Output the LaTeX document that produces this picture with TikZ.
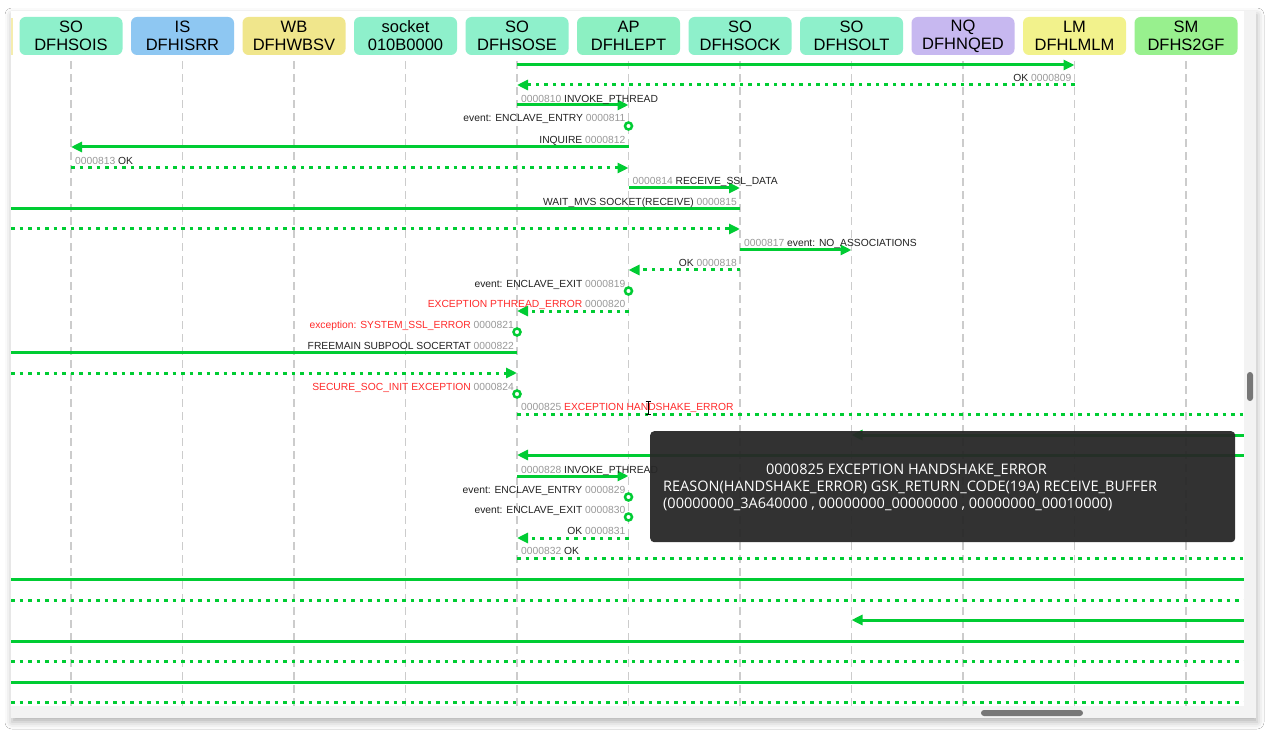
\documentclass[tikz,border=0pt]{standalone}
\usepackage{fontspec}
\setmainfont{Liberation Sans}
\newfontfamily\tipfont{Open Sans}
\usetikzlibrary{arrows.meta,shadows.blur,calc}
\definecolor{gl}{HTML}{00CC33}
\definecolor{mint}{HTML}{8EF0CB}
\definecolor{skyb}{HTML}{8EC7F2}
\definecolor{khak}{HTML}{F0E68C}
\definecolor{lav}{HTML}{C7B8F0}
\definecolor{lmy}{HTML}{F2F28C}
\definecolor{smg}{HTML}{98F08E}
\definecolor{apg}{HTML}{8CF0C2}
\definecolor{numg}{HTML}{999999}
\definecolor{exr}{HTML}{FF2A2A}
\definecolor{lifec}{HTML}{CCCCCC}
\definecolor{trk}{HTML}{F3F3F3}
\definecolor{thumbc}{HTML}{777777}
\definecolor{tipbg}{HTML}{272727}
\definecolor{txt}{HTML}{222222}
\newcommand\nm[1]{\textcolor{numg}{#1}}
\newcommand\ex[1]{\textcolor{exr}{#1}}
\begin{document}
\begin{tikzpicture}[x=1pt,y=-1pt,
  hdr/.style={rounded corners=6pt, minimum width=103pt, minimum height=38pt, inner sep=0pt, align=center, font=\fontsize{16.5}{18}\selectfont, text=black},
  life/.style={lifec, line width=1.5pt, dash pattern=on 8pt off 5pt},
  sol/.style={gl, line width=3pt},
  dotl/.style={gl, line width=3pt, dash pattern=on 3.5pt off 5pt},
  tip/.style={-{Triangle[length=11pt,width=10pt]}},
  evc/.style={circle, draw=gl, line width=2.5pt, fill=white, minimum size=7pt, inner sep=0pt},
  lbl/.style={font=\fontsize{10.3}{12}\selectfont, text=txt, inner sep=0pt},
  lw/.style={lbl, anchor=base west, xshift=4pt},
  le/.style={lbl, anchor=base east, xshift=-3pt},
  tiptxt/.style={font=\tipfont\fontsize{14.5}{17}\selectfont, text=white, inner sep=0pt}
]
\useasboundingbox (0,0) rectangle (1275,738);
\fill[white] (0,0) rectangle (1275,738);
\path[fill=white, blur shadow={shadow xshift=1pt, shadow yshift=-4pt, shadow blur radius=7pt, shadow opacity=30}] (11,11) rectangle (1256,718);
\fill[white] (11,11) rectangle (1256,718);
% partially hidden header at the left edge
\fill[khak!70] (11,18) rectangle (12.5,55);
% headers
\foreach \i/\c/\a/\b in {1/mint/SO/DFHSOIS, 2/skyb/IS/DFHISRR, 3/khak/WB/DFHWBSV, 4/mint/socket/010B0000, 5/mint/SO/DFHSOSE, 6/apg/AP/DFHLEPT, 7/mint/SO/DFHSOCK, 8/mint/SO/DFHSOLT, 9/lav/NQ/DFHNQED, 10/lmy/LM/DFHLMLM, 11/smg/SM/DFHS2GF}
  \node[hdr, fill=\c] (h\i) at ({71+111.5*(\i-1)},36) {\a\\\b};
% helper coordinates
\coordinate (Lft) at (11,0);
\coordinate (Rgt) at (1244,0);
\coordinate (bot) at (0,706);
\foreach \n/\y in {1/65,2/85,3/105,4/126,5/147,6/168,7/188,8/209,9/229,10/250,11/270,12/291,13/311,14/332,15/352,16/373,17/394,18/414,19/435,20/455,21/476,22/497,23/517,24/538,25/558,26/579,27/600,28/620,29/641,30/661,31/682,32/702}
  \coordinate (r\n) at (0,\y);
% lifelines
\foreach \i in {1,...,11}
  \draw[life] ([yshift=-6pt]h\i.south) -- (h\i |- bot);
% messages
\draw[sol,tip] (h5 |- r1) -- (h10 |- r1);
\draw[dotl,tip] (h10 |- r2) -- (h5 |- r2);
\node[le, yshift=3.5pt] (t2) at (h10 |- r2) {OK \nm{0000809}};
\draw[sol,tip] (h5 |- r3) -- (h6 |- r3);
\node[lw, yshift=2.5pt] (t3) at (h5 |- r3) {\nm{0000810} INVOKE\_PTHREAD};
\node[evc] (e4) at (h6 |- r4) {};
\node[le, yshift=4pt] (t4) at (h6 |- r4) {event: ENCLAVE\_ENTRY \nm{0000811}};
\draw[sol,tip] (h6 |- r5) -- (h1 |- r5);
\node[le, yshift=3pt] (t5) at (h6 |- r5) {INQUIRE \nm{0000812}};
\draw[dotl,tip] (h1 |- r6) -- (h6 |- r6);
\node[lw, yshift=3.5pt] (t6) at (h1 |- r6) {\nm{0000813} OK};
\draw[sol,tip] (h6 |- r7) -- (h7 |- r7);
\node[lw, yshift=3pt] (t7) at (h6 |- r7) {\nm{0000814} RECEIVE\_SSL\_DATA};
\draw[sol] (h7 |- r8) -- (Lft |- r8);
\node[le, yshift=3.5pt] (t8) at (h7 |- r8) {WAIT\_MVS SOCKET(RECEIVE) \nm{0000815}};
\draw[dotl,tip] (Lft |- r9) -- (h7 |- r9);
\draw[sol,tip] (h7 |- r10) -- (h8 |- r10);
\node[lw, yshift=3.5pt] (t10) at (h7 |- r10) {\nm{0000817} event: NO\_ASSOCIATIONS};
\draw[dotl,tip] (h7 |- r11) -- (h6 |- r11);
\node[le, yshift=3.5pt] (t11) at (h7 |- r11) {OK \nm{0000818}};
\node[evc] (e12) at (h6 |- r12) {};
\node[le, yshift=3.5pt] (t12) at (h6 |- r12) {event: ENCLAVE\_EXIT \nm{0000819}};
\draw[dotl,tip] (h6 |- r13) -- (h5 |- r13);
\node[le, yshift=3.5pt] (t13) at (h6 |- r13) {\ex{EXCEPTION PTHREAD\_ERROR} \nm{0000820}};
\node[evc] (e14) at (h5 |- r14) {};
\node[le, yshift=3.5pt] (t14) at (h5 |- r14) {\ex{exception: SYSTEM\_SSL\_ERROR} \nm{0000821}};
\draw[sol] (h5 |- r15) -- (Lft |- r15);
\node[le, yshift=3pt] (t15) at (h5 |- r15) {FREEMAIN SUBPOOL SOCERTAT \nm{0000822}};
\draw[dotl,tip] (Lft |- r16) -- (h5 |- r16);
\node[evc] (e17) at (h5 |- r17) {};
\node[le, yshift=3.5pt] (t17) at (h5 |- r17) {\ex{SECURE\_SOC\_INIT EXCEPTION} \nm{0000824}};
\draw[dotl] (h5 |- r18) -- (Rgt |- r18);
\node[lw, yshift=3.5pt] (t18) at (h5 |- r18) {\nm{0000825} \ex{EXCEPTION HANDSHAKE\_ERROR}};
\draw[sol,tip] (Rgt |- r19) -- (h8 |- r19);
\draw[sol,tip] (Rgt |- r20) -- (h5 |- r20);
\draw[sol,tip] (h5 |- r21) -- (h6 |- r21);
\node[lw, yshift=3pt] (t21) at (h5 |- r21) {\nm{0000828} INVOKE\_PTHREAD};
\node[evc] (e22) at (h6 |- r22) {};
\node[le, yshift=3.5pt] (t22) at (h6 |- r22) {event: ENCLAVE\_ENTRY \nm{0000829}};
\node[evc] (e23) at (h6 |- r23) {};
\node[le, yshift=3.5pt] (t23) at (h6 |- r23) {event: ENCLAVE\_EXIT \nm{0000830}};
\draw[dotl,tip] (h6 |- r24) -- (h5 |- r24);
\node[le, yshift=3.5pt] (t24) at (h6 |- r24) {OK \nm{0000831}};
\draw[dotl] (h5 |- r25) -- (Rgt |- r25);
\node[lw, yshift=3.5pt] (t25) at (h5 |- r25) {\nm{0000832} OK};
\draw[sol] (Lft |- r26) -- (Rgt |- r26);
\draw[dotl] (Lft |- r27) -- (Rgt |- r27);
\draw[sol,tip] (Rgt |- r28) -- (h8 |- r28);
\draw[sol] (Lft |- r29) -- (Rgt |- r29);
\draw[dotl] (Lft |- r30) -- (Rgt |- r30);
\draw[sol] (Lft |- r31) -- (Rgt |- r31);
\draw[dotl] (Lft |- r32) -- (Rgt |- r32);
% text cursor
\draw[black, line width=0.8pt] (648,401.5) -- (648,414) (645.5,401) -- (650.5,401) (645.5,414.5) -- (650.5,414.5);
% scroll bars
\fill[trk] (1244,11) rectangle (1256,718);
\fill[trk] (11,706) rectangle (1256,718);
\fill[thumbc, rounded corners=3pt] (1247,372) rectangle (1253,401);
\fill[thumbc, rounded corners=3pt] (981,710) rectangle (1083,716);
% tooltip
\node[fill=tipbg, fill opacity=0.95, rounded corners=4pt, minimum width=585pt, minimum height=111pt, inner sep=0pt, anchor=north west] (tipbox) at (650,431) {};
\node[tiptxt, anchor=base] (tip1) at (906.5,474) {0000825 EXCEPTION HANDSHAKE\_ERROR};
\node[tiptxt, anchor=base west] (tip2) at (663,491) {REASON(HANDSHAKE\_ERROR) GSK\_RETURN\_CODE(19A) RECEIVE\_BUFFER};
\node[tiptxt, anchor=base west] (tip3) at (663,508) {(00000000\_3A640000 , 00000000\_00000000 , 00000000\_00010000)};
\end{tikzpicture}
\end{document}
